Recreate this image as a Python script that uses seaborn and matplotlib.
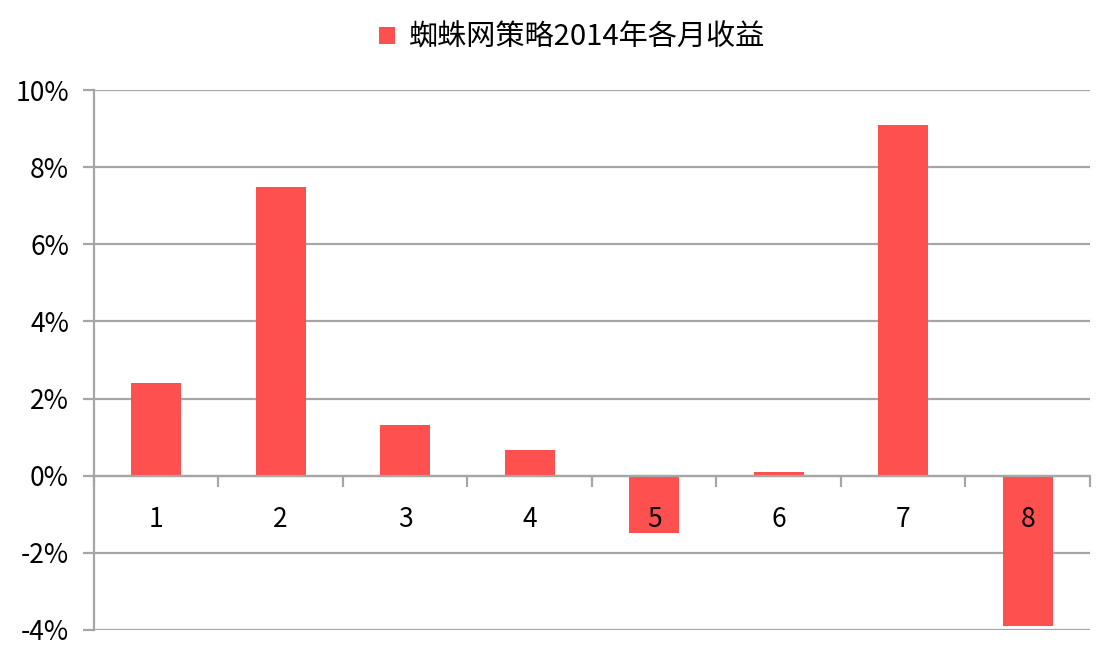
import matplotlib
matplotlib.use("Agg")
import matplotlib.pyplot as plt
import seaborn as sns
import pandas as pd
import numpy as np
from matplotlib.ticker import FixedLocator, PercentFormatter

# données
months = ["1", "2", "3", "4", "5", "6", "7", "8"]
returns = [2.41, 7.49, 1.32, 0.67, -1.50, 0.10, 9.09, -3.89]
series_name = "蜘蛛网策略2014年各月收益"
y_ticks = [-4, -2, 0, 2, 4, 6, 8, 10]

df = pd.DataFrame({"month": months, "ret": returns})

sns.set_theme(style="white")
plt.rcParams['font.family'] = ['Noto Sans CJK SC', 'DejaVu Sans']
plt.rcParams['axes.unicode_minus'] = False
plt.rcParams['text.color'] = 'black'
plt.rcParams['xtick.labelcolor'] = 'black'
plt.rcParams['ytick.labelcolor'] = 'black'

grey = "#a6a6a6"
red = "#ff5050"

fig = plt.figure(figsize=(11.19, 6.48), dpi=100)
ax = fig.add_axes([0.084, 0.028, 0.890, 0.833])

sns.barplot(data=df, x="month", y="ret", color=red, saturation=1,
            width=0.4, ax=ax, label=series_name, linewidth=0)

ax.set_ylim(-4, 10)
ax.set_xlim(-0.5, len(months) - 0.5)
ax.yaxis.set_major_locator(FixedLocator(y_ticks))
ax.yaxis.set_major_formatter(PercentFormatter(decimals=0))
ax.set_xlabel("")
ax.set_ylabel("")

# grille horizontale derrière les barres
ax.set_axisbelow(True)
ax.yaxis.grid(True, color=grey, linewidth=1.6)
ax.xaxis.set_zorder(3)

# axe des x sur la ligne zéro
for s in ["top", "right"]:
    ax.spines[s].set_visible(False)
ax.spines["bottom"].set_position(("data", 0))
for s in ["left", "bottom"]:
    ax.spines[s].set_color(grey)
    ax.spines[s].set_linewidth(1.6)

ax.xaxis.set_minor_locator(FixedLocator(np.arange(-0.5, len(months), 1.0)))
ax.tick_params(axis="x", which="major", length=0, pad=22, labelsize=19,
               labelcolor="black")
ax.tick_params(axis="x", which="minor", length=8, width=1.6, color=grey,
               direction="out", bottom=True)
ax.tick_params(axis="y", length=8, width=1.6, color=grey, left=True,
               pad=10, labelsize=19, labelcolor="black")

ax.legend(loc="lower center", bbox_to_anchor=(0.48, 1.02), frameon=False,
          fontsize=21, handlelength=0.55, handleheight=0.55, handletextpad=0.5,
          labelcolor="black")

fig.savefig("out.png", dpi=100)
